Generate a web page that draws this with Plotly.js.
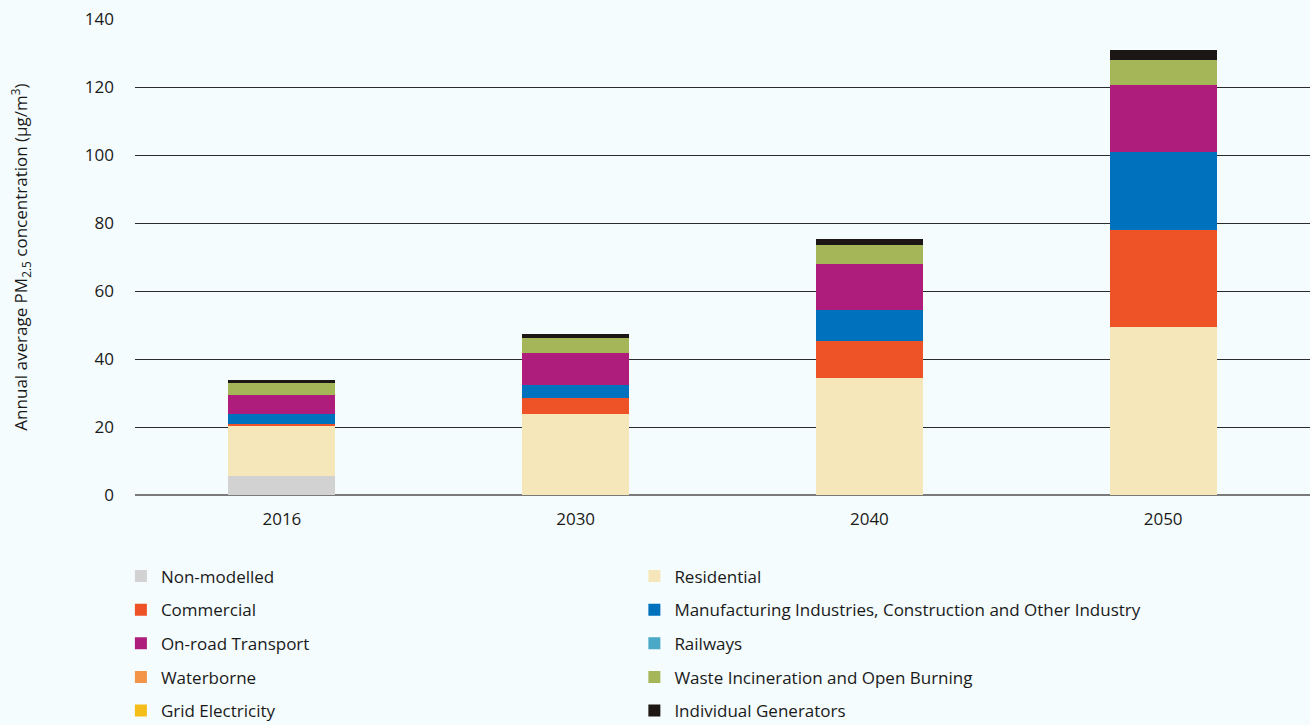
<!DOCTYPE html>
<html>
<head>
<meta charset="utf-8">
<script src="https://cdn.plot.ly/plotly-3.0.1.min.js"></script>
<style>
html,body{margin:0;padding:0;background:#f4fcfd;}
#chart{width:1310px;height:725px;}
</style>
</head>
<body>
<div id="chart"></div>
<script>
const years = ["2016", "2030", "2040", "2050"];
const seriesNames = ["Non-modelled", "Residential", "Commercial",
  "Manufacturing Industries, Construction and Other Industry", "On-road Transport",
  "Railways", "Waterborne", "Waste Incineration and Open Burning", "Grid Electricity",
  "Individual Generators"];
const nonModelled   = [5.6, 0, 0, 0];
const residential   = [14.7, 23.8, 34.4, 49.5];
const commercial    = [0.7, 4.7, 10.9, 28.5];
const manufacturing = [2.8, 3.9, 9.2, 22.9];
const onroad        = [5.6, 9.4, 13.4, 19.7];
const railways      = [0, 0, 0, 0];
const waterborne    = [0, 0, 0, 0];
const waste         = [3.5, 4.4, 5.6, 7.3];
const gridElec      = [0, 0, 0, 0];
const generators    = [0.9, 1.2, 1.8, 3.0];
const yTicks = [0, 20, 40, 60, 80, 100, 120, 140];

const values = [nonModelled, residential, commercial, manufacturing, onroad,
  railways, waterborne, waste, gridElec, generators];
const colors = ["#d2d2d2", "#f6e7bb", "#ee5327", "#0071bd", "#ae1c7c",
  "#4aa9c6", "#f39449", "#a4b658", "#f5bd1a", "#1c1715"];
const legendOf = ["legend", "legend2", "legend", "legend2", "legend",
  "legend2", "legend", "legend2", "legend", "legend2"];

const FONT = "'Open Sans', Lato, sans-serif";
const traces = seriesNames.map((n, i) => ({
  type: "bar",
  name: n,
  x: years,
  y: values[i],
  marker: {color: colors[i], line: {width: 0}},
  legend: legendOf[i],
  legendgroup: "g" + i,
  hoverinfo: "name+y"
}));

const legendCommon = {
  orientation: "v",
  traceorder: "grouped",
  tracegroupgap: 8.5,
  bgcolor: "rgba(0,0,0,0)",
  borderwidth: 0,
  font: {family: FONT, size: 17, color: "#1a1a1a"},
  xanchor: "left",
  yanchor: "top",
  y: -0.1335
};

const layout = {
  width: 1310,
  height: 725,
  paper_bgcolor: "#f4fcfd",
  plot_bgcolor: "#f4fcfd",
  barmode: "stack",
  bargap: 0.636,
  margin: {l: 135, r: 0, t: 19, b: 230, autoexpand: false},
  font: {family: FONT, size: 16, color: "#1a1a1a"},
  xaxis: {
    type: "category",
    showgrid: false,
    showline: false,
    ticks: "",
    ticklabelstandoff: 12,
    tickfont: {family: FONT, size: 17, color: "#1a1a1a"}
  },
  yaxis: {
    range: [0, 140],
    tickvals: yTicks,
    ticktext: yTicks.map(String),
    showgrid: true,
    gridcolor: "#2b2b2b",
    gridwidth: 1,
    zeroline: true,
    zerolinecolor: "#7a7a7a",
    zerolinewidth: 2,
    showline: false,
    ticks: "",
    ticklabelstandoff: 20,
    tickfont: {family: FONT, size: 17, color: "#1a1a1a"},
    title: {
      text: "Annual average PM<sub>2.5</sub> concentration (µg/m<sup>3</sup>)",
      font: {family: FONT, size: 17, color: "#1a1a1a"},
      standoff: 52
    },
    automargin: false
  },
  legend: Object.assign({}, legendCommon, {x: -0.012}),
  legend2: Object.assign({}, legendCommon, {x: 0.425})
};

Plotly.newPlot("chart", traces, layout, {displayModeBar: false, staticPlot: true});
</script>
</body>
</html>
